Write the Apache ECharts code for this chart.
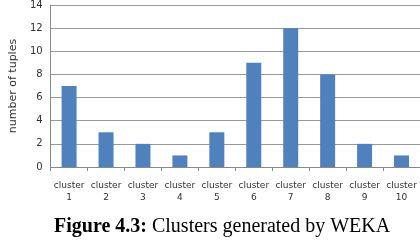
<!DOCTYPE html>
<html><head><meta charset="utf-8">
<script src="https://cdn.jsdelivr.net/npm/echarts@6/dist/echarts.min.js"></script>
<style>html,body{margin:0;padding:0;background:#fff}#c{width:420px;height:240px}</style>
</head><body><div id="c"></div>
<script>
const categories = ['cluster\n1','cluster\n2','cluster\n3','cluster\n4','cluster\n5','cluster\n6','cluster\n7','cluster\n8','cluster\n9','cluster\n10'];
const values = [7,3,2,1,3,9,12,8,2,1];
const yTicks = [0,2,4,6,8,10,12,14];
const chart = echarts.init(document.getElementById('c'), null, {renderer:'canvas'});
chart.setOption({
  animation:false,
  title:{
    text:'{b|Figure 4.3:} {n|Clusters generated by WEKA}',
    left:49, top:212, padding:5,
    textStyle:{fontWeight:'normal',rich:{
      b:{fontFamily:'Liberation Serif',fontWeight:'bold',fontSize:20,color:'#000'},
      n:{fontFamily:'Liberation Serif',fontWeight:'normal',fontSize:20,color:'#000'}
    }}
  },
  grid:{left:44, top:5, width:380, height:162},
  xAxis:{
    type:'category', data:categories,
    axisLine:{lineStyle:{color:'#888'}},
    axisTick:{show:true, length:4, lineStyle:{color:'#888'}},
    axisLabel:{fontFamily:'DejaVu Sans',fontSize:9,color:'#333',lineHeight:12,margin:13,interval:0}
  },
  yAxis:{
    type:'value', min:0, max:14, interval:2,
    name:'number of tuples', nameLocation:'middle', nameGap:31, nameRotate:90,
    nameTextStyle:{fontFamily:'DejaVu Sans',fontSize:11,color:'#333'},
    axisLine:{show:true,lineStyle:{color:'#888'}},
    axisTick:{show:false},
    axisLabel:{fontFamily:'DejaVu Sans',fontSize:10,color:'#333',margin:8,
      formatter:v=>yTicks.includes(v)?String(v):''},
    splitLine:{lineStyle:{color:'#999',width:1}}
  },
  series:[{type:'bar', data:values, barWidth:15, itemStyle:{color:'#4f81bd'}}]
});
</script></body></html>
